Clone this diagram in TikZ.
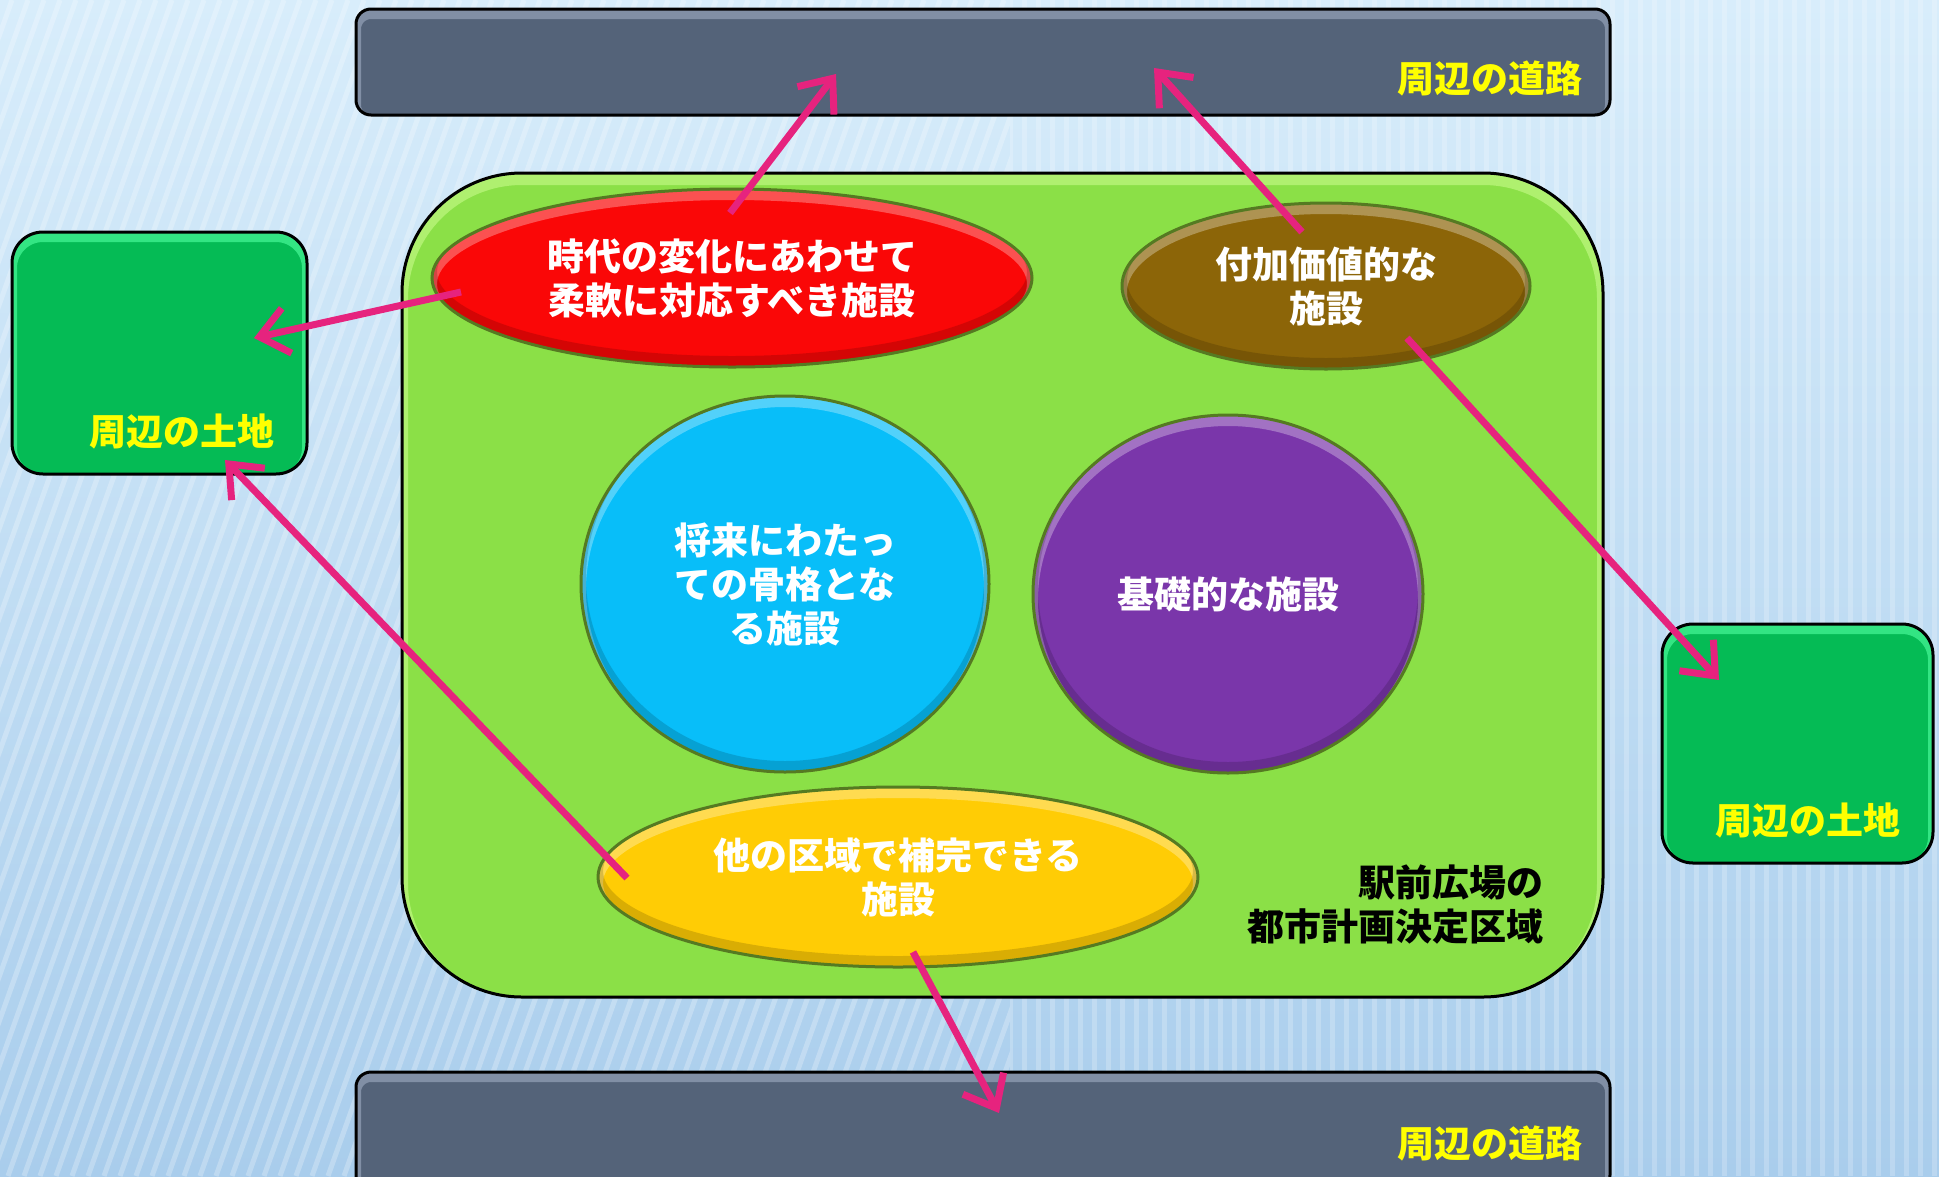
\documentclass[tikz,border=0pt]{standalone}
\usepackage{fontspec}
\setmainfont{Noto Sans CJK JP}
\usetikzlibrary{arrows.meta,shapes.geometric}
\definecolor{bgtop}{HTML}{D8EDFB}
\definecolor{bgbot}{HTML}{A9CDEC}
\definecolor{roadc}{HTML}{546379}
\definecolor{roadhl}{HTML}{8D9BB1}
\definecolor{landc}{HTML}{05BB55}
\definecolor{landhl}{HTML}{3FF08F}
\definecolor{mainc}{HTML}{8BE047}
\definecolor{mainhl}{HTML}{B8F57A}
\definecolor{redc}{HTML}{FA0707}
\definecolor{brownc}{HTML}{8C6508}
\definecolor{cyanc}{HTML}{08BEF9}
\definecolor{purpc}{HTML}{7A36AA}
\definecolor{yellc}{HTML}{FFCC05}
\definecolor{olive}{HTML}{557A22}
\definecolor{arrowc}{HTML}{E6237E}
\definecolor{txtyel}{HTML}{FFFF00}
\tikzset{
  bevelbox/.style n args={4}{rectangle, rounded corners=#1, minimum width=#2, minimum height=#3,
    inner sep=0pt, fill=#4, draw=black, line width=3pt},
  road/.style={bevelbox={15pt}{1254pt}{#1}{roadc},
    path picture={\draw[roadhl, line width=10pt, rounded corners=15pt, opacity=.8]
      ([yshift=-5pt]path picture bounding box.north west) rectangle ([yshift=-5pt]path picture bounding box.south east);}},
  land/.style n args={2}{bevelbox={31pt}{#1}{#2}{landc},
    path picture={\draw[landhl, line width=10pt, rounded corners=31pt, opacity=.8]
      ([yshift=-5pt]path picture bounding box.north west) rectangle ([yshift=-5pt]path picture bounding box.south east);}},
  mainbox/.style={bevelbox={120pt}{1201pt}{824pt}{mainc},
    path picture={\draw[mainhl, line width=12pt, rounded corners=120pt, opacity=.8]
      ([yshift=-6pt]path picture bounding box.north west) rectangle ([yshift=-6pt]path picture bounding box.south east);}},
  ell/.style n args={4}{ellipse, minimum width=2*#1 pt, minimum height=2*#2 pt, inner sep=0pt,
    fill=#3, draw=olive, line width=3pt, align=center, text=white,
    path picture={
      \draw[white, opacity=.3, line width=10pt]
        ([yshift=-6pt]path picture bounding box.center) ellipse [x radius=#1pt, y radius=#2pt];
      \draw[black, opacity=.15, line width=10pt]
        ([yshift=6pt]path picture bounding box.center) ellipse [x radius=#1pt, y radius=#2pt];
    }},
  yeltext/.style={text=txtyel, inner sep=0pt},
  conn/.style={draw=arrowc, line width=7pt,
    -{Straight Barb[length=28pt, width=46pt, line width=7pt]}},
}
\begin{document}
\begin{tikzpicture}[x=1pt, y=-1pt, font=\bfseries\fontsize{37}{44}\selectfont]
\useasboundingbox (0,0) rectangle (1939,1176);
% background
\shade[top color=bgtop, bottom color=bgbot] (0,0) rectangle (1939,1176);
\begin{scope}
  \clip (0,0) rectangle (1010,1176);
  \foreach \i in {-520,-504,...,1010}{\draw[white, opacity=.25, line width=5pt] (\i,1176) -- (\i+420,0);}
\end{scope}
\begin{scope}
  \clip (1010,0) rectangle (1939,1176);
  \foreach \i in {1010,1024,...,1939}{\draw[white, opacity=.22, line width=5pt] (\i,0) -- (\i,1176);}
\end{scope}

% roads
\node[road={106pt}] (roadT) at (983,62) {};
\node[road={118pt}] (roadB) at (983,1131) {};
\node[yeltext, anchor=east] (roadTt) at (1583,78) {周辺の道路};
\node[yeltext, anchor=east] (roadBt) at (1583,1143) {周辺の道路};

% land boxes
\node[land={295pt}{242pt}] (landL) at (159.5,353) {};
\node[land={271pt}{239pt}] (landR) at (1797.5,743.5) {};
\node[yeltext] (landLt) at (182,432) {周辺の土地};
\node[yeltext] (landRt) at (1808,821) {周辺の土地};

% main area
\node[mainbox] (main) at (1002.5,585) {};
\node[align=right, anchor=east, inner sep=0pt] (mainlbl) at (1544,905) {駅前広場の\\都市計画決定区域};

% facilities
\node[ell={300}{89}{redc}] (red) at (732,278) {時代の変化にあわせて\\柔軟に対応すべき施設};
\node[ell={204}{83}{brownc}] (brown) at (1326,286) {付加価値的な\\施設};
\node[ell={204}{188}{cyanc}] (cyan) at (785,584) {将来にわたっ\\ての骨格とな\\る施設};
\node[ell={195}{179}{purpc}] (purp) at (1228,594) {基礎的な施設};
\node[ell={300}{90}{yellc}] (yell) at (898,877) {他の区域で補完できる\\施設};

% connector end points
\coordinate (a1s) at (730,213);  \coordinate (a1e) at (836,74);
\coordinate (a2s) at (1302,232); \coordinate (a2e) at (1154,68);
\coordinate (a3s) at (461,292);  \coordinate (a3e) at (254,338);
\coordinate (a4s) at (627,878);  \coordinate (a4e) at (225,460);
\coordinate (a5s) at (1407,338); \coordinate (a5e) at (1719,680);
\coordinate (a6s) at (913,952);  \coordinate (a6e) at (999,1113);

\draw[conn] (a1s) -- (a1e);
\draw[conn] (a2s) -- (a2e);
\draw[conn] (a3s) -- (a3e);
\draw[conn] (a4s) -- (a4e);
\draw[conn] (a5s) -- (a5e);
\draw[conn] (a6s) -- (a6e);
\end{tikzpicture}
\end{document}
